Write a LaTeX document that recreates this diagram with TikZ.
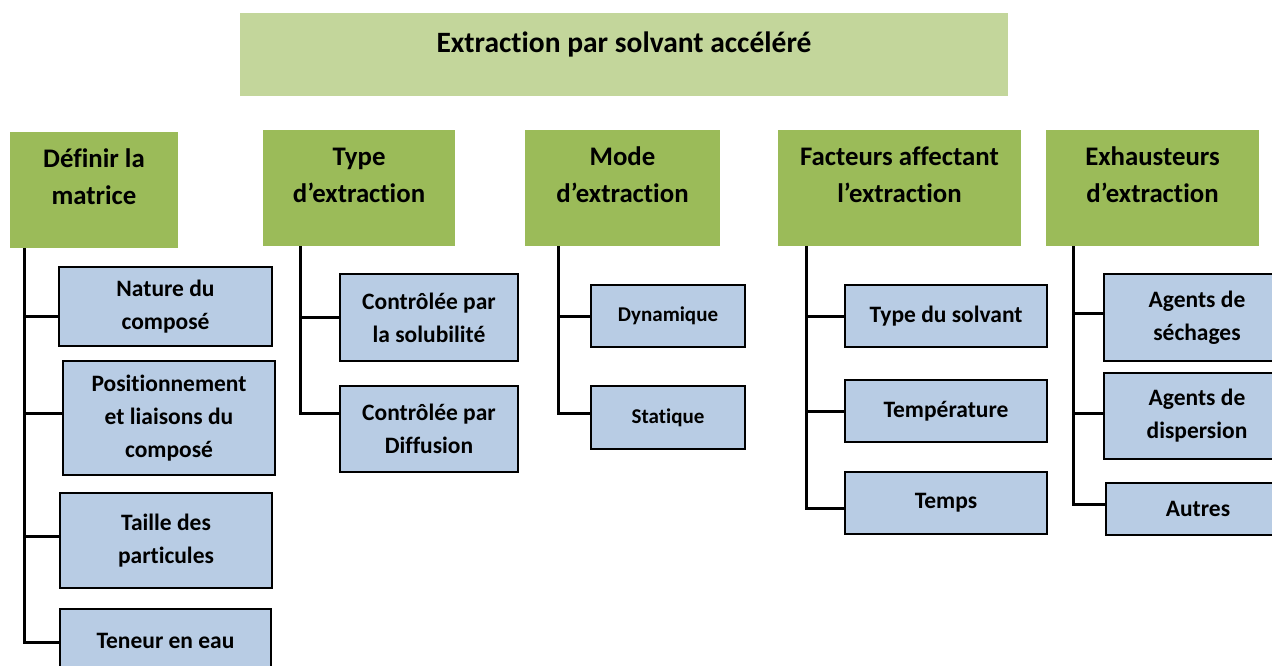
\documentclass[tikz,border=0pt]{standalone}
\usepackage{fontspec}
\setmainfont{Carlito}[Ligatures=NoCommon]
\definecolor{titlegreen}{HTML}{C3D69B}
\definecolor{headgreen}{HTML}{9BBB59}
\definecolor{leafblue}{HTML}{B8CCE4}
\tikzset{
  headbox/.style={fill=headgreen, align=center, inner sep=0pt, text depth=26pt, font=\fontsize{26.8}{37}\selectfont\bfseries},
  leafbox/.style={draw=black, line width=1.6pt, fill=leafblue, align=center, inner sep=0pt, font=\fontsize{23.5}{33}\selectfont\bfseries},
  smallleaf/.style={leafbox, font=\fontsize{21}{25}\selectfont\bfseries},
  branch/.style={line width=3pt, line join=miter}
}
\begin{document}
\begin{tikzpicture}[x=1pt,y=-1pt]
  \useasboundingbox (0,0) rectangle (1272,666);
  % titre
  \node (title) at (624,13) [anchor=north, fill=titlegreen, minimum width=768pt, text height=39pt, text depth=44pt, inner sep=0pt, font=\fontsize{29.5}{32}\selectfont\bfseries] {Extraction par solvant accéléré};
  % en-tetes
  \node (h1) at (94,190) [headbox, minimum width=168pt, minimum height=116pt] {Définir la\\matrice};
  \node (h2) at (359,188) [headbox, minimum width=192pt, minimum height=116pt] {Type\\d’extraction};
  \node (h3) at (622.5,188) [headbox, minimum width=195pt, minimum height=116pt] {Mode\\d’extraction};
  \node (h4) at (899.5,188) [headbox, minimum width=243pt, minimum height=116pt] {Facteurs affectant\\l’extraction};
  \node (h5) at (1152.5,188) [headbox, minimum width=213pt, minimum height=116pt] {Exhausteurs\\d’extraction};
  \coordinate (t1) at (24,248); \coordinate (t2) at (300,246); \coordinate (t3) at (558,246);
  \coordinate (t4) at (806,246); \coordinate (t5) at (1073,246);
  % colonne 1
  \node (c11) at (165.5,306.5) [leafbox, minimum width=213pt, minimum height=79pt] {Nature du\\composé};
  \node (c12) at (169,418) [leafbox, minimum width=212pt, minimum height=114pt] {Positionnement\\et liaisons du\\composé};
  \node (c13) at (166,540.5) [leafbox, minimum width=212pt, minimum height=95pt] {Taille des\\particules};
  \node (c14) at (165.5,640.5) [leafbox, minimum width=211pt, minimum height=63pt] {Teneur en eau};
  % colonne 2
  \node (c21) at (429,317.5) [leafbox, minimum width=178pt, minimum height=87pt] {Contrôlée par\\la solubilité};
  \node (c22) at (429,429) [leafbox, minimum width=178pt, minimum height=86pt] {Contrôlée par\\Diffusion};
  % colonne 3
  \node (c31) at (668,316) [smallleaf, minimum width=154pt, minimum height=62pt] {Dynamique};
  \node (c32) at (668,417.5) [smallleaf, minimum width=154pt, minimum height=63pt] {Statique};
  % colonne 4
  \node (c41) at (946,316) [leafbox, minimum width=202pt, minimum height=62pt] {Type du solvant};
  \node (c42) at (946,411) [leafbox, minimum width=202pt, minimum height=62pt] {Température};
  \node (c43) at (946,503) [leafbox, minimum width=202pt, minimum height=62pt] {Temps};
  % colonne 5
  \node (c51) at (1197,317.5) [leafbox, minimum width=186pt, minimum height=87pt] {Agents de\\séchages};
  \node (c52) at (1197,416) [leafbox, minimum width=186pt, minimum height=86pt] {Agents de\\dispersion};
  \node (c53) at (1198,509) [leafbox, minimum width=184pt, minimum height=52pt] {Autres};
  % branches
  \draw[branch] (t1) |- ([yshift=-9.5pt]c11.west); \draw[branch] (t1) |- ([yshift=5pt]c12.west);
  \draw[branch] (t1) |- ([yshift=4.5pt]c13.west); \draw[branch] (t1) |- ([yshift=-1.5pt]c14.west);
  \draw[branch] (t2) |- (c21.west); \draw[branch] (t2) |- ([yshift=16pt]c22.west);
  \draw[branch] (t3) |- (c31.west); \draw[branch] (t3) |- ([yshift=4.5pt]c32.west);
  \draw[branch] (t4) |- (c41.west); \draw[branch] (t4) |- (c42.west); \draw[branch] (t4) |- ([yshift=-5pt]c43.west);
  \draw[branch] (t5) |- ([yshift=4.5pt]c51.west); \draw[branch] (t5) |- ([yshift=3pt]c52.west); \draw[branch] (t5) |- ([yshift=5pt]c53.west);
\end{tikzpicture}
\end{document}
